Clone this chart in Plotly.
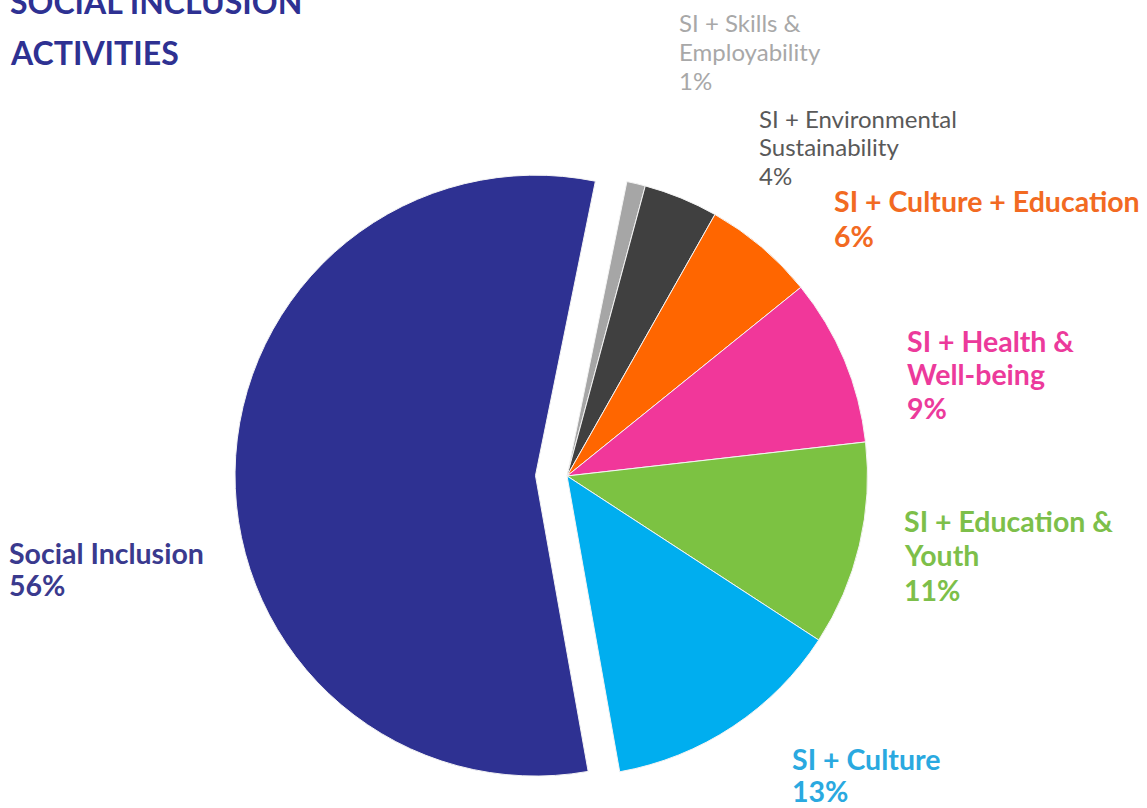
import plotly.graph_objects as go

W, H = 1147, 808
PAD = 3  # annotation inner padding, px

title_lines = ["SOCIAL INCLUSION", "ACTIVITIES"]

categories = [
    "SI + Skills &<br>Employability",
    "SI + Environmental<br>Sustainability",
    "SI + Culture + Education",
    "SI + Health &<br>Well-being",
    "SI + Education &<br>Youth",
    "SI + Culture",
    "Social Inclusion",
]
shares = [1, 4, 6, 9, 11, 13, 56]

slice_colors = ["#A6A6A6", "#404040", "#FF6600", "#F1379A", "#7CC242", "#00AEEF", "#2E3192"]
text_colors = ["#A8A8A8", "#595959", "#F26A22", "#EC3A9B", "#7DBF4A", "#2AA9E0", "#3A3A8E"]
bold = [False, False, True, True, True, True, True]
font_size = [24, 24, 28.5, 28.5, 28.5, 28.5, 28.5]
line_pitch = [29, 28.5, 35, 33.5, 34.5, 32, 32]
# label anchor: left x, first-line baseline (px)
label_pos = [(680, 32), (760, 128), (835, 213), (908, 353), (905, 533), (793, 771), (10, 565)]

fig = go.Figure()
fig.add_trace(
    go.Pie(
        labels=[c.replace("<br>", " ") for c in categories],
        values=shares,
        sort=False,
        direction="clockwise",
        rotation=11.5,
        pull=[0, 0, 0, 0, 0, 0, 0.105],
        marker=dict(colors=slice_colors, line=dict(color="#F4F4F4", width=1)),
        textinfo="none",
        hoverinfo="label+percent",
        domain=dict(x=[0.18, 0.8087], y=[0, 0.8218]),
        showlegend=False,
    )
)


def px_x(x):
    return (x - PAD) / W


def px_top(baseline, size):
    return 1 - (baseline - 1.1 * size) / H


def add_line(text, x, baseline, size, color, is_bold):
    if is_bold:
        text = f"<b>{text}</b>"
    fig.add_annotation(
        x=px_x(x), y=px_top(baseline, size), xref="paper", yref="paper",
        xanchor="left", yanchor="top", align="left", showarrow=False,
        text=text, font=dict(family="Lato", size=size, color=color),
    )


for i, cat in enumerate(categories):
    x, base = label_pos[i]
    lines = cat.split("<br>") + [f"{shares[i]}%"]
    for k, line in enumerate(lines):
        add_line(line, x, base + k * line_pitch[i], font_size[i], text_colors[i], bold[i])

for j, line in enumerate(title_lines):
    add_line(line, 11, 15 + 51 * j, 32, "#2E3192", True)

fig.update_layout(
    width=W,
    height=H,
    margin=dict(l=0, r=0, t=0, b=0),
    paper_bgcolor="white",
    plot_bgcolor="white",
    font_family="Lato",
)

fig.write_html(
    "out.html",
    config={"displayModeBar": False},
    post_script="document.body.style.margin='0';document.body.style.overflow='hidden';",
)
